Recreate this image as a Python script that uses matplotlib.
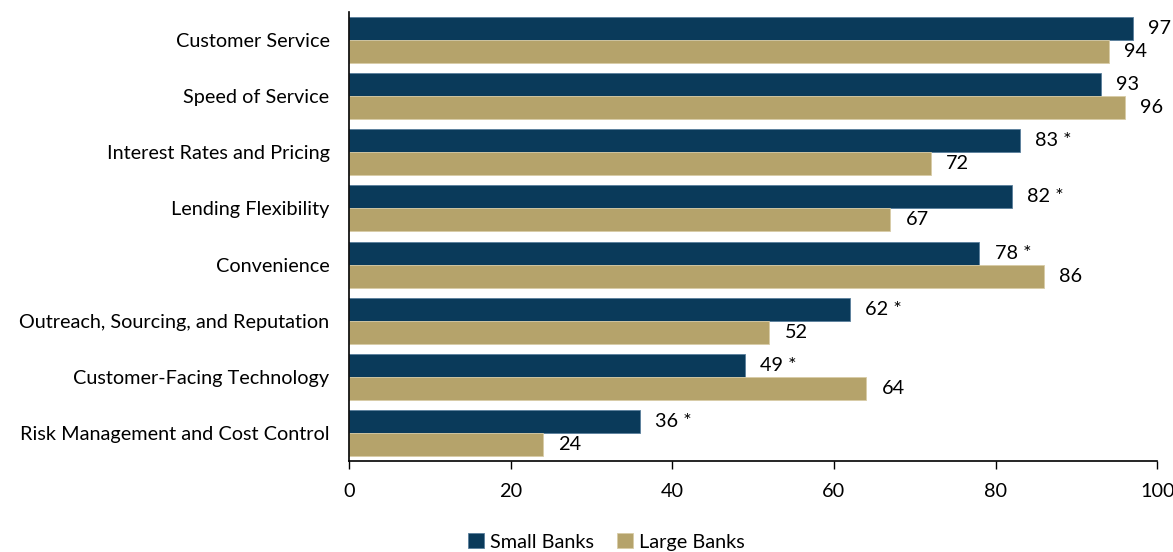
import numpy as np
import matplotlib.pyplot as plt

plt.rcParams['font.family'] = ['Lato', 'DejaVu Sans']

categories = [
    "Customer Service",
    "Speed of Service",
    "Interest Rates and Pricing",
    "Lending Flexibility",
    "Convenience",
    "Outreach, Sourcing, and Reputation",
    "Customer-Facing Technology",
    "Risk Management and Cost Control",
]
small_banks = [97, 93, 83, 82, 78, 62, 49, 36]
large_banks = [94, 96, 72, 67, 86, 52, 64, 24]
small_labels = ["97", "93", "83 *", "82 *", "78 *", "62 *", "49 *", "36 *"]
large_labels = ["94", "96", "72", "67", "86", "52", "64", "24"]

NAVY = "#0a3a5a"
TAN = "#b5a36b"
FS = 14.3

fig = plt.figure(figsize=(11.73, 5.52), dpi=100)
ax = fig.add_axes([0.2975, 0.1649, 0.689, 0.8134])

y = np.arange(len(categories))
h = 0.41
bars_s = ax.barh(y - h / 2, small_banks, height=h, color=NAVY,
                 edgecolor="#5a7f9c", linewidth=0.6, label="Small Banks")
bars_l = ax.barh(y + h / 2, large_banks, height=h, color=TAN,
                 edgecolor="#d8cca6", linewidth=0.6, label="Large Banks")

for b, t in zip(bars_s, small_labels):
    ax.text(b.get_width() + 1.9, b.get_y() + b.get_height() / 2, t,
            va="center", ha="left", fontsize=FS)
for b, t in zip(bars_l, large_labels):
    ax.text(b.get_width() + 1.9, b.get_y() + b.get_height() / 2, t,
            va="center", ha="left", fontsize=FS)

ax.set_xlim(0, 100)
ax.set_ylim(len(categories) - 0.5, -0.5)
ax.set_xticks([0, 20, 40, 60, 80, 100])
ax.set_yticks(y)
ax.set_yticklabels(categories)
ax.tick_params(axis="y", length=0, pad=14, labelsize=FS)
ax.tick_params(axis="x", length=6, width=1, pad=10, labelsize=FS, direction="out")
for s in ["top", "right"]:
    ax.spines[s].set_visible(False)
ax.spines["left"].set_linewidth(1.2)
ax.spines["bottom"].set_linewidth(1.2)

fig.legend(handles=[bars_s, bars_l], labels=["Small Banks", "Large Banks"],
           loc="lower center", bbox_to_anchor=(0.517, -0.03), ncol=2,
           frameon=False, fontsize=FS, handlelength=0.8, handleheight=0.8,
           handletextpad=0.3, columnspacing=1.2)

fig.savefig("out.png", dpi=100)
